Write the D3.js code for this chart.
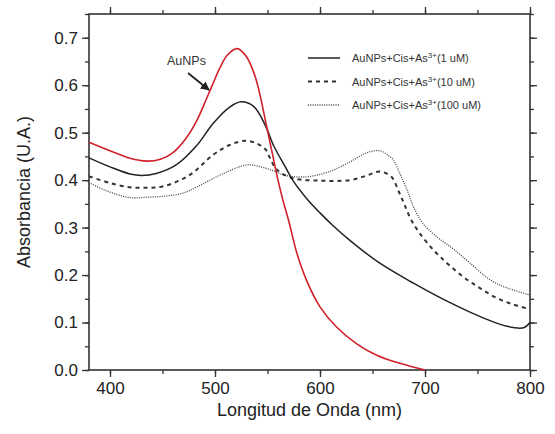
<!DOCTYPE html>
<html>
<head>
<meta charset="utf-8">
<script src="https://cdn.jsdelivr.net/npm/d3@7"></script>
<style>
  body { margin: 0; background: #fff; }
  svg text { font-family: "Liberation Sans", Arial, sans-serif; }
</style>
</head>
<body>
<div id="chart"></div>
<script>
// datos (nm, absorbancia)
const aunpsX = [380, 400, 419, 435, 448, 460, 473, 483, 492, 498, 505, 512, 521, 530, 538, 543, 549, 555, 560, 565, 570, 578, 587, 600, 616, 635, 654, 676, 700];
const aunpsY = [0.48, 0.462, 0.446, 0.44, 0.444, 0.458, 0.49, 0.527, 0.572, 0.603, 0.638, 0.664, 0.677, 0.66, 0.62, 0.578, 0.515, 0.452, 0.40, 0.355, 0.316, 0.246, 0.19, 0.133, 0.09, 0.055, 0.031, 0.014, 0.0];

const s1X = [380, 400, 419, 430, 444, 463, 483, 498, 514, 525, 537, 548, 556, 567, 574, 587, 600, 612, 629, 657, 689, 721, 752, 778, 794, 800];
const s1Y = [0.447, 0.428, 0.413, 0.41, 0.414, 0.432, 0.474, 0.519, 0.554, 0.565, 0.555, 0.515, 0.472, 0.428, 0.40, 0.362, 0.331, 0.305, 0.272, 0.225, 0.183, 0.145, 0.113, 0.092, 0.089, 0.1];

const s10X = [380, 400, 419, 435, 451, 476, 498, 514, 529, 540, 548, 552, 559, 574, 600, 629, 645, 657, 668, 675, 680, 686, 695, 708, 721, 736, 752, 768, 784, 800];
const s10Y = [0.408, 0.394, 0.385, 0.384, 0.387, 0.411, 0.453, 0.474, 0.483, 0.477, 0.465, 0.448, 0.422, 0.404, 0.399, 0.40, 0.41, 0.418, 0.407, 0.376, 0.351, 0.32, 0.288, 0.253, 0.225, 0.197, 0.173, 0.152, 0.138, 0.128];

const s100X = [380, 395, 419, 435, 451, 470, 483, 508, 530, 540, 554, 567, 587, 609, 629, 645, 657, 665, 670, 676, 683, 689, 698, 711, 727, 743, 762, 778, 800];
const s100Y = [0.395, 0.379, 0.363, 0.364, 0.366, 0.373, 0.386, 0.414, 0.432, 0.43, 0.421, 0.41, 0.407, 0.418, 0.439, 0.458, 0.462, 0.452, 0.442, 0.414, 0.379, 0.344, 0.309, 0.281, 0.255, 0.225, 0.19, 0.173, 0.158];

const xTicks = [400, 500, 600, 700, 800];
const yTicks = [0.0, 0.1, 0.2, 0.3, 0.4, 0.5, 0.6, 0.7];

const legendNames = ["1 uM", "10 uM", "100 uM"];

const width = 555, height = 434;
const margin = { top: 14, right: 25, bottom: 64, left: 89 };
const w = width - margin.left - margin.right;
const h = height - margin.top - margin.bottom;

const svg = d3.select("#chart").append("svg")
  .attr("width", width)
  .attr("height", height);

const g = svg.append("g").attr("transform", `translate(${margin.left},${margin.top})`);

const x = d3.scaleLinear().domain([380, 800]).range([0, w]);
const y = d3.scaleLinear().domain([0, 0.75]).range([h, 0]);

const axisColor = "#333";
const minorX = d3.range(400, 801, 50);
const minorY = d3.range(0, 0.751, 0.05);

function styleAxis(sel) {
  sel.select(".domain").remove();
  sel.selectAll("line").attr("stroke", axisColor).attr("stroke-width", 1.3);
  sel.selectAll("text").style("font-size", "17px").attr("fill", "#222");
}

// ticks menores
g.append("g").attr("transform", `translate(0,${h})`)
  .call(d3.axisBottom(x).tickValues(minorX).tickSize(4).tickFormat("")).call(styleAxis);
g.append("g")
  .call(d3.axisTop(x).tickValues(minorX).tickSize(4).tickFormat("")).call(styleAxis);
g.append("g")
  .call(d3.axisLeft(y).tickValues(minorY).tickSize(4).tickFormat("")).call(styleAxis);
g.append("g").attr("transform", `translate(${w},0)`)
  .call(d3.axisRight(y).tickValues(minorY).tickSize(4).tickFormat("")).call(styleAxis);

// ticks mayores
g.append("g").attr("transform", `translate(0,${h})`)
  .call(d3.axisBottom(x).tickValues(xTicks).tickSize(7).tickPadding(5).tickFormat(d3.format("d"))).call(styleAxis);
g.append("g")
  .call(d3.axisTop(x).tickValues(xTicks).tickSize(7).tickFormat("")).call(styleAxis);
g.append("g")
  .call(d3.axisLeft(y).tickValues(yTicks).tickSize(7).tickPadding(4).tickFormat(d3.format(".1f"))).call(styleAxis);
g.append("g").attr("transform", `translate(${w},0)`)
  .call(d3.axisRight(y).tickValues(yTicks).tickSize(7).tickFormat("")).call(styleAxis);

// marco
g.append("rect")
  .attr("width", w).attr("height", h)
  .attr("fill", "none").attr("stroke", axisColor).attr("stroke-width", 1.6);

const line = d3.line()
  .x(d => x(d[0]))
  .y(d => y(d[1]))
  .curve(d3.curveCatmullRom.alpha(0.5));

const zip = (a, b) => a.map((v, i) => [v, b[i]]);

const series = [
  { pts: zip(s100X, s100Y), stroke: "#444", width: 1.3, dash: "1,1.3" },
  { pts: zip(s10X, s10Y), stroke: "#333", width: 2, dash: "4,4" },
  { pts: zip(s1X, s1Y), stroke: "#222", width: 1.5, dash: null },
  { pts: zip(aunpsX, aunpsY), stroke: "#d0202a", width: 1.6, dash: null }
];

g.selectAll(".serie")
  .data(series)
  .enter()
  .append("path")
  .attr("class", "serie")
  .attr("d", d => line(d.pts))
  .attr("fill", "none")
  .attr("stroke", d => d.stroke)
  .attr("stroke-width", d => d.width)
  .attr("stroke-dasharray", d => d.dash);

// leyenda
const legendStyles = [
  { stroke: "#222", width: 1.5, dash: null },
  { stroke: "#333", width: 2, dash: "4,4" },
  { stroke: "#444", width: 1.3, dash: "1,1.3" }
];
const legend = svg.append("g");
legendNames.forEach((name, i) => {
  const ly = 58 + i * 23.5;
  legend.append("line")
    .attr("x1", 308).attr("x2", 340)
    .attr("y1", ly).attr("y2", ly)
    .attr("stroke", legendStyles[i].stroke)
    .attr("stroke-width", legendStyles[i].width)
    .attr("stroke-dasharray", legendStyles[i].dash);
  const t = legend.append("text")
    .attr("x", 352).attr("y", ly + 4)
    .style("font-size", "11px")
    .attr("fill", "#333");
  t.append("tspan").text("AuNPs+Cis+As");
  t.append("tspan").attr("dy", -4).style("font-size", "8px").text("3+");
  t.append("tspan").attr("dy", 4).text("(" + name + ")");
});

// etiqueta AuNPs con flecha
svg.append("defs").append("marker")
  .attr("id", "flecha")
  .attr("viewBox", "0 0 10 10")
  .attr("refX", 9).attr("refY", 5)
  .attr("markerWidth", 5).attr("markerHeight", 5)
  .attr("orient", "auto")
  .append("path").attr("d", "M0,0L10,5L0,10z").attr("fill", "#222");

svg.append("text")
  .attr("x", 167).attr("y", 65)
  .style("font-size", "12.5px")
  .attr("fill", "#333")
  .text("AuNPs");
svg.append("line")
  .attr("x1", 188).attr("y1", 73)
  .attr("x2", 209).attr("y2", 90)
  .attr("stroke", "#222").attr("stroke-width", 1.8)
  .attr("marker-end", "url(#flecha)");

// titulos de ejes
svg.append("text")
  .attr("x", margin.left + w / 2).attr("y", 416)
  .attr("text-anchor", "middle")
  .style("font-size", "18px")
  .attr("fill", "#222")
  .text("Longitud de Onda (nm)");
svg.append("text")
  .attr("transform", `translate(30,${margin.top + h / 2}) rotate(-90)`)
  .attr("text-anchor", "middle")
  .style("font-size", "18px")
  .attr("fill", "#222")
  .text("Absorbancia (U.A.)");
</script>
</body>
</html>
